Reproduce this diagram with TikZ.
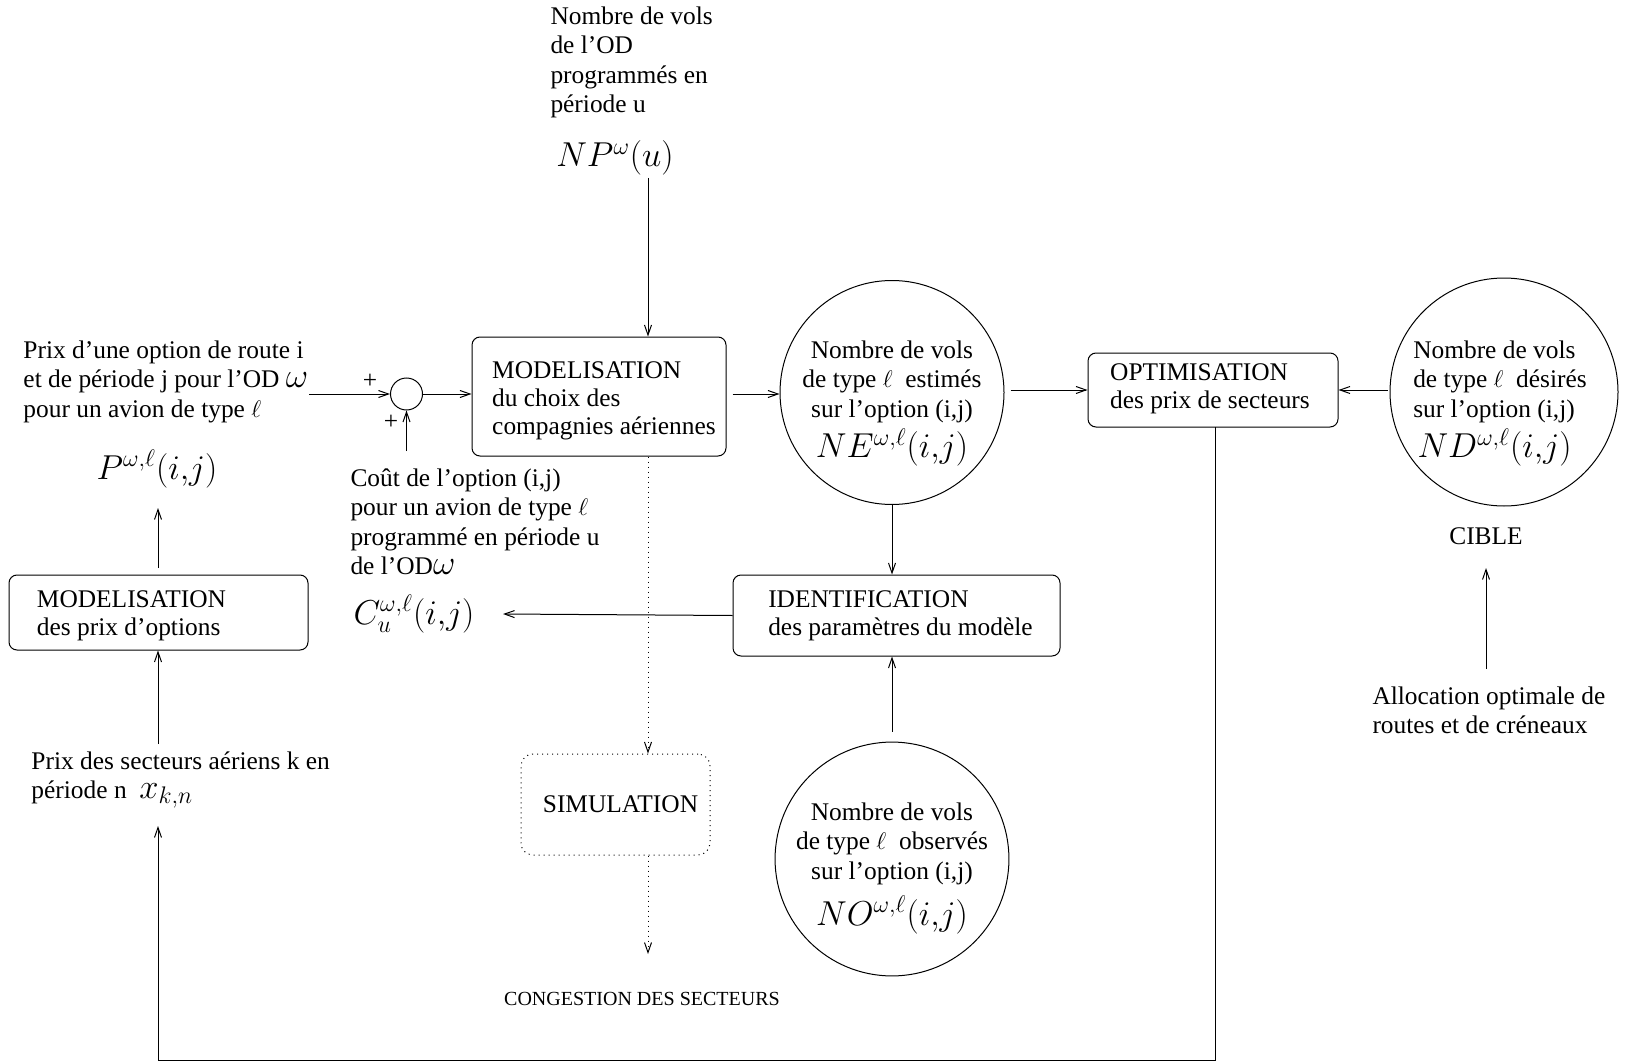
\documentclass[tikz,border=0pt]{standalone}
\usepackage{fontspec}
\setmainfont{Liberation Serif}
\usetikzlibrary{arrows.meta,calc}
\newcommand{\lgmath}[1]{{\fontsize{16.5}{19}\selectfont$#1$}}
% shifted text block: #1 = x shift, #2 = y raise, #3 = column type, #4 = lines
\newcommand{\shiftblk}[4]{\raisebox{#2}[\height][\depth]{\hspace*{#1}\begin{tabular}{@{}#3@{}}#4\end{tabular}\hspace*{-#1}}}
\begin{document}
\begin{tikzpicture}[x=0.5pt,y=-0.5pt,line width=0.5pt,
  arr/.style={-{Straight Barb[length=5pt,width=3.5pt]}},
  txt/.style={inner sep=0pt,align=left,font=\fontsize{12.7}{14.8}\selectfont},
  ctxt/.style={inner sep=0pt,align=center,font=\fontsize{12.7}{14.8}\selectfont},
  mth/.style={inner sep=0pt,font=\fontsize{16.5}{19}\selectfont},
  box/.style={draw,rounded corners=4pt,inner sep=0pt,
    font=\fontsize{12.7}{14}\selectfont},
  circ/.style={draw,circle,inner sep=0pt,
    font=\fontsize{12.7}{14.8}\selectfont}]
\useasboundingbox (0,0) rectangle (1626,1064);

% top text
\node[txt,anchor=north west] (toptxt) at (550,6) {Nombre de vols\\de l'OD\\programmés en\\période u};
\node[mth] (np) at (615,158) {$NP^{\omega}(u)$};

% main modelisation box
\node[box,minimum width=127pt,minimum height=59.5pt] (mod) at (599,396.5)
  {\shiftblk{2.5pt}{-2.2pt}{l}{MODELISATION\\du choix des\\compagnies aériennes}};

% summing junction
\node[draw,circle,minimum size=16pt,inner sep=0pt] (sum) at (406.5,394) {};

% left input text
\node[txt,anchor=north west] (prixopt) at (23,340) {Prix d'une option de route i\\et de période j pour l'OD \lgmath{\omega}\\pour un avion de type $\ell$};
\node[mth] (P) at (157,469) {$P^{\omega,\ell}(i{,}j)$};

\node[box,minimum width=149.5pt,minimum height=37.5pt] (modprix) at (158.5,612.5)
  {\shiftblk{-13.5pt}{-1.6pt}{l}{MODELISATION\\des prix d'options}};

\node[txt,anchor=north west] (prixsect) at (31,751) {Prix des secteurs aériens k en\\période n \ \lgmath{x_{k,n}}};

% cost text
\node[txt,anchor=north west] (cout) at (350,468) {Coût de l'option (i,j)\\pour un avion de type $\ell$\\programmé en période u\\de l'OD\lgmath{\omega}};
\node[mth] (C) at (414,614) {$C_u^{\omega,\ell}(i{,}j)$};

% NE circle
\node[circ,minimum size=112pt] (ne) at (892,392.5)
  {\shiftblk{0pt}{-4.8pt}{c}{Nombre de vols\\de type $\ell$\ \ estimés\\sur l'option (i,j)\\[1pt]\lgmath{NE^{\omega,\ell}(i{,}j)}}};

% optimisation
\node[box,minimum width=125pt,minimum height=37pt] (opt) at (1213,390)
  {\shiftblk{-1.5pt}{0.5pt}{l}{OPTIMISATION\\des prix de secteurs}};

% ND circle
\node[circ,minimum size=114pt] (nd) at (1504,392)
  {\shiftblk{-2pt}{-5pt}{l}{Nombre de vols\\de type $\ell$\ \ désirés\\sur l'option (i,j)\\[1pt]\,\lgmath{ND^{\omega,\ell}(i{,}j)}}};
\node[ctxt] (cible) at (1486,536) {CIBLE};
\node[txt,anchor=north west] (alloc) at (1372,686) {Allocation optimale de\\routes et de créneaux};

% identification
\node[box,minimum width=163.5pt,minimum height=40.5pt] (ident) at (896.5,615.5)
  {\shiftblk{2pt}{0pt}{l}{IDENTIFICATION\\des paramètres du modèle}};

% NO circle
\node[circ,minimum size=114pt] (no) at (892,859)
  {\shiftblk{0pt}{-3.9pt}{c}{Nombre de vols\\de type $\ell$\ \ observés\\sur l'option (i,j)\\[4pt]\lgmath{NO^{\omega,\ell}(i{,}j)}}};

% simulation
\node[draw,dotted,rounded corners=6pt,minimum width=94.5pt,minimum height=50.5pt,inner sep=0pt,
  font=\fontsize{12.7}{14.8}\selectfont] (sim) at (615.5,804.5) {\hspace*{5pt}SIMULATION};
\node[ctxt,font=\fontsize{10}{12}\selectfont] (cong) at (642,999) {CONGESTION DES SECTEURS};

% coordinates
\coordinate (npx) at (648,178);
\coordinate (congtop) at (648,954);
\coordinate (loopbl) at (158,1060);
\coordinate (prixbot) at (158,826);
\coordinate (prixtop) at (158,744);
\coordinate (sumin) at (309,394);
\coordinate (costup) at (406.5,451);
\coordinate (ciblebot) at (1486,669);
\coordinate (cibletop) at (1486,568);
\coordinate (optdown) at (1215,427);
\coordinate (pa) at (158,568);
\coordinate (pb) at (158,508);
\coordinate (cend) at (503,614);

% connectors
\draw[arr] (npx) -- (npx |- mod.north);
\draw[arr] (sumin) -- (sum.west);
\draw[arr] (costup) -- (sum.south);
\draw[arr] (sum.east) -- (mod.west |- sum.east);
\draw[arr] ([xshift=3pt]mod.east |- sum.east) -- (ne.west |- sum.east);
\draw[arr] ([xshift=3pt]ne.east |- opt.west) -- (opt.west);
\draw[arr] ([xshift=-1pt]nd.west |- opt.east) -- (opt.east);
\draw[arr] (ciblebot) -- (cibletop);
\draw[arr] (ne.south) -- (ne.south |- ident.north);
\draw[arr] ([yshift=5pt]no.north) -- (no.north |- ident.south);
\draw[arr] (ident.west) -- (cend);
\draw[arr] (pa) -- (pb);
\draw[arr] (prixtop) -- (modprix.south -| prixtop);
\draw[arr] (optdown) -- (optdown |- loopbl) -- (loopbl) -- (prixbot);
\draw[arr,dotted] (npx |- mod.south) -- (npx |- sim.north);
\draw[arr,dotted] (npx |- sim.south) -- (congtop);

% plus signs
\node[txt] (plus1) at (370,381) {+};
\node[txt] (plus2) at (391,422) {+};
\end{tikzpicture}
\end{document}
